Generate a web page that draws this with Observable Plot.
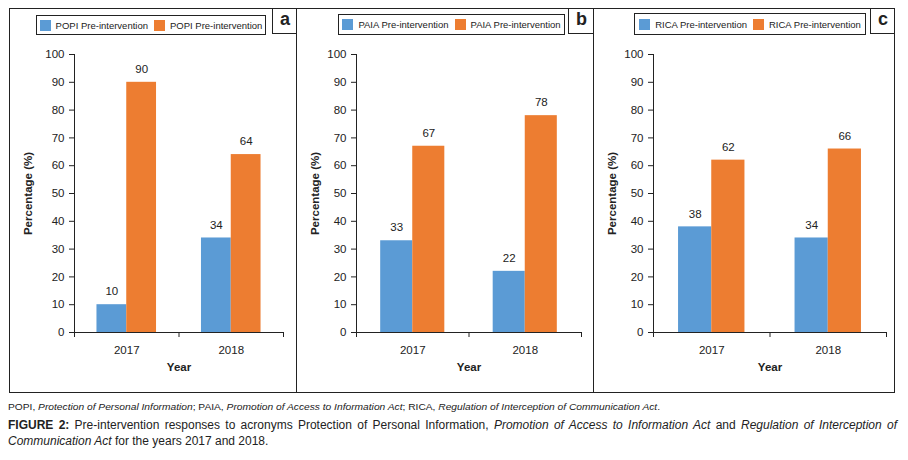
<!DOCTYPE html>
<html><head><meta charset="utf-8">
<script src="https://cdn.jsdelivr.net/npm/d3@7"></script>
<script src="https://cdn.jsdelivr.net/npm/@observablehq/plot@0.6"></script>
<style>
body{margin:0;background:#fff;font-family:"Liberation Sans",Arial,sans-serif;color:#222;}
#wrap{position:relative;width:908px;height:460px;overflow:hidden;}
.panel{position:absolute;top:8px;height:385px;box-sizing:border-box;border:1px solid #222;}
.legend{position:absolute;box-sizing:border-box;border:1px solid #222;background:#fff;display:flex;align-items:center;justify-content:center;font-size:9.5px;color:#222;white-space:nowrap;}
.legend .sw{display:inline-block;width:11px;height:11px;margin:0 5px 0 6px;}
.lab{position:absolute;top:8px;height:26px;box-sizing:border-box;border-left:1px solid #222;border-bottom:1px solid #222;font-weight:bold;font-size:18px;display:flex;align-items:center;justify-content:center;padding-bottom:3px;}
.cap{position:absolute;left:8px;white-space:nowrap;transform-origin:0 0;color:#222;}
g[aria-label="y-axis label"] text, g[aria-label="x-axis label"] text{font-weight:bold;}
</style></head>
<body><div id="wrap"></div>
<script>
// ---- data ----
const years = [2017, 2018];
const yTicks = [0, 10, 20, 30, 40, 50, 60, 70, 80, 90, 100];
const panelLetters = ["a", "b", "c"];
const acronyms = ["POPI", "PAIA", "RICA"];
const popiBlue = [10, 34];
const popiOrange = [90, 64];
const paiaBlue = [33, 22];
const paiaOrange = [67, 78];
const ricaBlue = [38, 34];
const ricaOrange = [62, 66];
const seriesLabel = "Pre-intervention";

const blueColor = "#5B9BD5";
const orangeColor = "#ED7D31";
const barW = 0.285;

const layouts = [
  {left: 9, width: 288, ml: 64, mr: 14, legend: [36, 15, 230, 20], lab: [272, 25]},
  {left: 296, width: 298, ml: 59, mr: 13, legend: [338, 14, 227, 21], lab: [568, 26]},
  {left: 593, width: 302, ml: 59, mr: 9, legend: [634, 13, 232, 22], lab: [870, 25]}
];
const blues = [popiBlue, paiaBlue, ricaBlue];
const oranges = [popiOrange, paiaOrange, ricaOrange];

const wrap = document.getElementById("wrap");

layouts.forEach((L, k) => {
  const data = years.map((year, i) => ({year, blue: blues[k][i], orange: oranges[k][i]}));
  const x0 = years[0] - 0.5, x1 = years[years.length - 1] + 0.5;
  const bounds = d3.range(x0, x1 + 0.01, 1);
  const chart = Plot.plot({
    width: L.width - 1, height: 384,
    marginTop: 46, marginBottom: 60, marginLeft: L.ml, marginRight: L.mr,
    x: {domain: [x0, x1]},
    y: {domain: [0, 100]},
    style: {fontFamily: "'Liberation Sans', Arial, sans-serif", fontSize: "11.5px", color: "#222", background: "transparent", overflow: "visible"},
    marks: [
      Plot.rectY(data, {x1: d => d.year - barW, x2: d => d.year, y: "blue", fill: blueColor}),
      Plot.rectY(data, {x1: d => d.year, x2: d => d.year + barW, y: "orange", fill: orangeColor}),
      Plot.text(data, {x: d => d.year - barW / 2, y: "blue", text: d => String(d.blue), dy: -13, fill: "#222", fontSize: 11.5}),
      Plot.text(data, {x: d => d.year + barW / 2, y: "orange", text: d => String(d.orange), dy: -13, fill: "#222", fontSize: 11.5}),
      Plot.ruleY([0], {stroke: "#222"}),
      Plot.ruleX([x0], {y1: 0, y2: 100, stroke: "#222"}),
      Plot.axisY({ticks: yTicks, tickSize: 5, tickPadding: 5, stroke: "#222", label: "Percentage (%)", labelAnchor: "center", labelOffset: L.ml - 13, labelArrow: "none", fontSize: 11.5}),
      Plot.axisX({ticks: bounds, tickSize: 5, tickFormat: () => "", label: null, stroke: "#222"}),
      Plot.axisX({ticks: years, tickSize: 0, tickPadding: 13, tickFormat: d => String(d), label: "Year", labelAnchor: "center", labelOffset: 38, labelArrow: "none", fontSize: 11.5})
    ]
  });
  const p = document.createElement("div");
  p.className = "panel";
  p.style.left = L.left + "px";
  p.style.width = L.width + "px";
  wrap.appendChild(p);
  chart.style.left = (L.left + 1) + "px";
  chart.style.position = "absolute";
  chart.style.top = "8px";
  wrap.appendChild(chart);

  const lg = document.createElement("div");
  lg.className = "legend";
  lg.style.left = L.legend[0] + "px";
  lg.style.top = L.legend[1] + "px";
  lg.style.width = L.legend[2] + "px";
  lg.style.height = L.legend[3] + "px";
  lg.innerHTML = `<span class="sw" style="background:${blueColor};margin-left:0"></span>${acronyms[k]} ${seriesLabel}<span class="sw" style="background:${orangeColor}"></span>${acronyms[k]} ${seriesLabel}`;
  wrap.appendChild(lg);

  const lb = document.createElement("div");
  lb.className = "lab";
  lb.style.left = L.lab[0] + "px";
  lb.style.width = (L.left + L.width - L.lab[0]) + "px";
  lb.textContent = panelLetters[k];
  wrap.appendChild(lb);
});

// captions
const cap1 = document.createElement("div");
cap1.className = "cap";
cap1.style.top = "401px";
cap1.style.fontSize = "9.5px";
cap1.innerHTML = "POPI, <i>Protection of Personal Information</i>; PAIA, <i>Promotion of Access to Information Act</i>; RICA, <i>Regulation of Interception of Communication Act</i>.";
wrap.appendChild(cap1);

const capL1 = document.createElement("div");
capL1.className = "cap";
capL1.style.top = "418px";
capL1.style.fontSize = "12px";
capL1.style.textAlign = "justify";
capL1.style.textAlignLast = "justify";
capL1.innerHTML = "<b>FIGURE 2:</b> Pre-intervention responses to acronyms Protection of Personal Information, <i>Promotion of Access to Information Act</i> and <i>Regulation of Interception of</i>";
wrap.appendChild(capL1);

const capL2 = document.createElement("div");
capL2.className = "cap";
capL2.style.top = "434px";
capL2.style.fontSize = "12px";
capL2.innerHTML = "<i>Communication Act</i> for the years 2017 and 2018.";
wrap.appendChild(capL2);

function fit() {
  cap1.style.transform = "none";
  const w1 = cap1.scrollWidth;
  cap1.style.transform = `scaleX(${652 / w1})`;
  capL2.style.transform = "none";
  const w2 = capL2.scrollWidth;
  const s = 260 / w2;
  capL2.style.transform = `scaleX(${s})`;
  capL1.style.width = (889 / s) + "px";
  capL1.style.transform = `scaleX(${s})`;
}
fit();
if (document.fonts && document.fonts.ready) document.fonts.ready.then(fit);
</script>
</body></html>
